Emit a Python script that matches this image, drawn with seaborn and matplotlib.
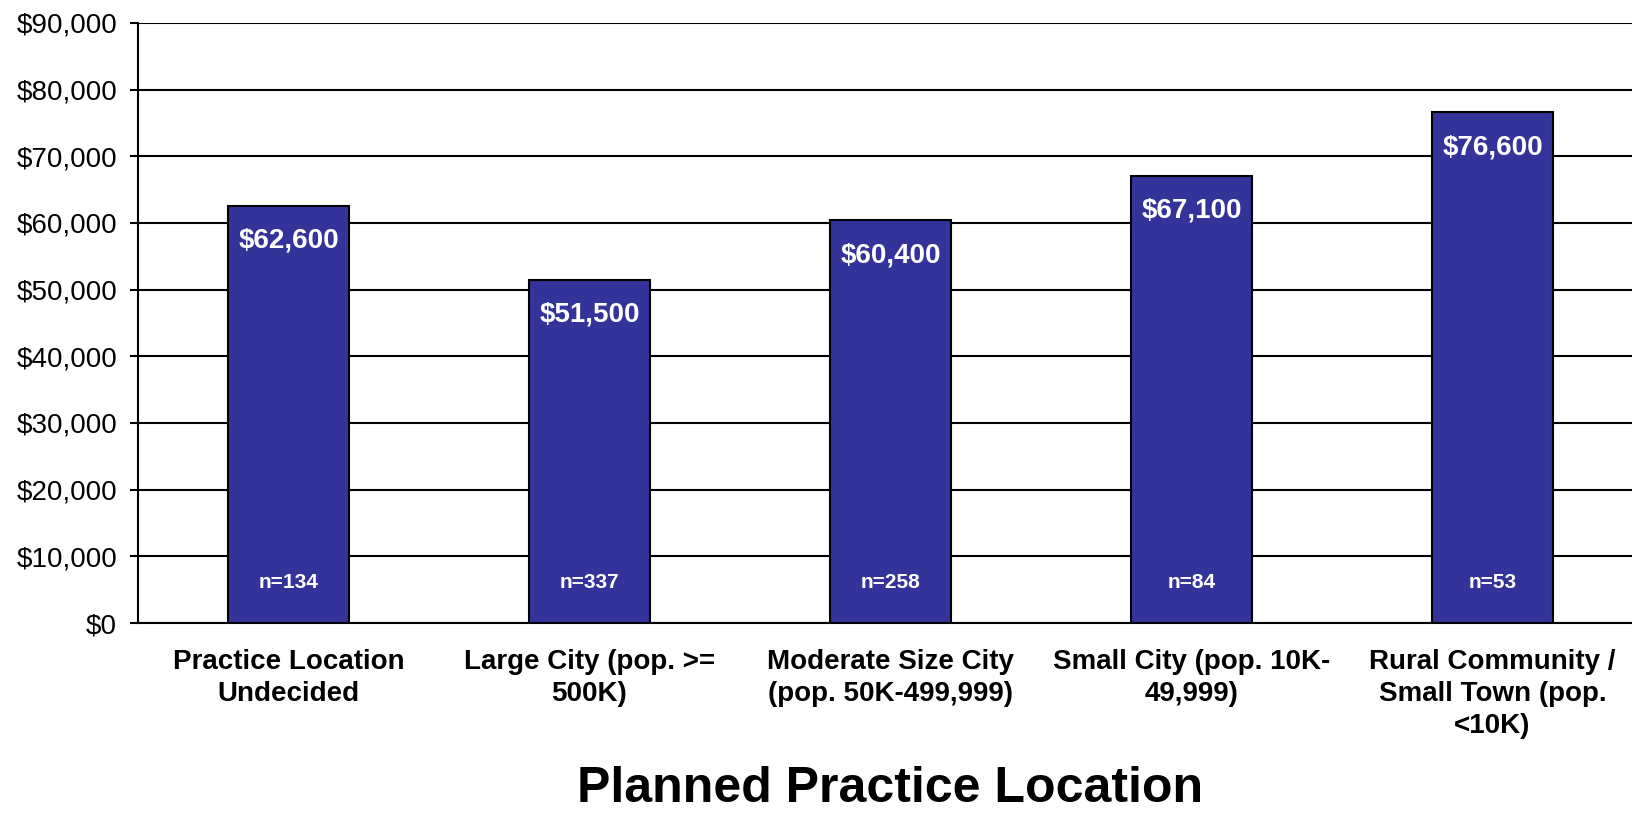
import numpy as np
import pandas as pd
import matplotlib.pyplot as plt
import seaborn as sns
from matplotlib.ticker import FuncFormatter, FixedLocator

# data
locations = ["Practice Location\nUndecided",
             "Large City (pop. >=\n500K)",
             "Moderate Size City\n(pop. 50K-499,999)",
             "Small City (pop. 10K-\n49,999)",
             "Rural Community /\nSmall Town (pop.\n<10K)"]
salary = [62600, 51500, 60400, 67100, 76600]
n_counts = [134, 337, 258, 84, 53]

sns.set_style("white")
plt.rcParams['font.family'] = ['Liberation Sans', 'DejaVu Sans']
plt.rcParams.update({"text.color": "black", "axes.labelcolor": "black",
                     "xtick.color": "black", "ytick.color": "black"})

df = pd.DataFrame({"Location": locations, "Salary": salary})

W, H = 1633, 814
fig = plt.figure(figsize=(W / 100, H / 100), dpi=100)
ax = fig.add_axes([138 / W, (H - 623) / H, (W - 138) / W, 600 / H])

sns.barplot(data=df, x="Location", y="Salary", color="#333399", saturation=1,
            edgecolor="black", linewidth=1.5, width=0.4, ax=ax, zorder=3)

ax.set_ylim(0, 90000)
ax.set_xlim(-0.5, -0.5 + (W - 138) / 301)
ax.yaxis.set_major_locator(FixedLocator(np.arange(0, 90001, 10000)))
ax.yaxis.set_major_formatter(FuncFormatter(lambda v, p: f"${v:,.0f}"))
ax.grid(axis="y", color="black", linewidth=1.5, zorder=0)
ax.set_axisbelow(True)

# ticks at category boundaries, labels at category centers
ax.xaxis.set_major_locator(FixedLocator([-0.5, 0.5, 1.5, 2.5, 3.5]))
ax.xaxis.set_major_formatter(FuncFormatter(lambda v, p: ""))
ax.xaxis.set_minor_locator(FixedLocator(range(len(locations))))
ax.set_xticklabels(locations, minor=True, fontsize=20, fontweight="bold",
                   linespacing=1.3, color="black")
ax.tick_params(axis="x", which="major", direction="out", length=6, width=1.5, color="black")
ax.tick_params(axis="x", which="minor", length=0, pad=19)
ax.tick_params(axis="y", direction="out", length=6, width=1.5, color="black",
               labelsize=20, labelcolor="black", pad=9, left=True)

for side in ["top", "right"]:
    ax.spines[side].set_visible(False)
for side in ["left", "bottom"]:
    ax.spines[side].set_color("black")
    ax.spines[side].set_linewidth(1.5)

ax.set_xlabel("")
ax.set_ylabel("")

# value labels inside top of each bar, n labels near the base
for i, (v, n) in enumerate(zip(salary, n_counts)):
    ax.annotate(f"${v:,}", (i, v), xytext=(0, -25), textcoords="offset points",
                ha="center", va="center", color="white", fontsize=20,
                fontweight="bold", zorder=5)
    ax.text(i, 6100, f"n={n}", ha="center", va="center", color="white",
            fontsize=15, fontweight="bold", zorder=5)

fig.text((138 + 138 + 5 * 301) / 2 / W, 0.003, "Planned Practice Location",
         ha="center", va="bottom", fontsize=36, fontweight="bold", color="black")

fig.savefig("out.png", dpi=100)
